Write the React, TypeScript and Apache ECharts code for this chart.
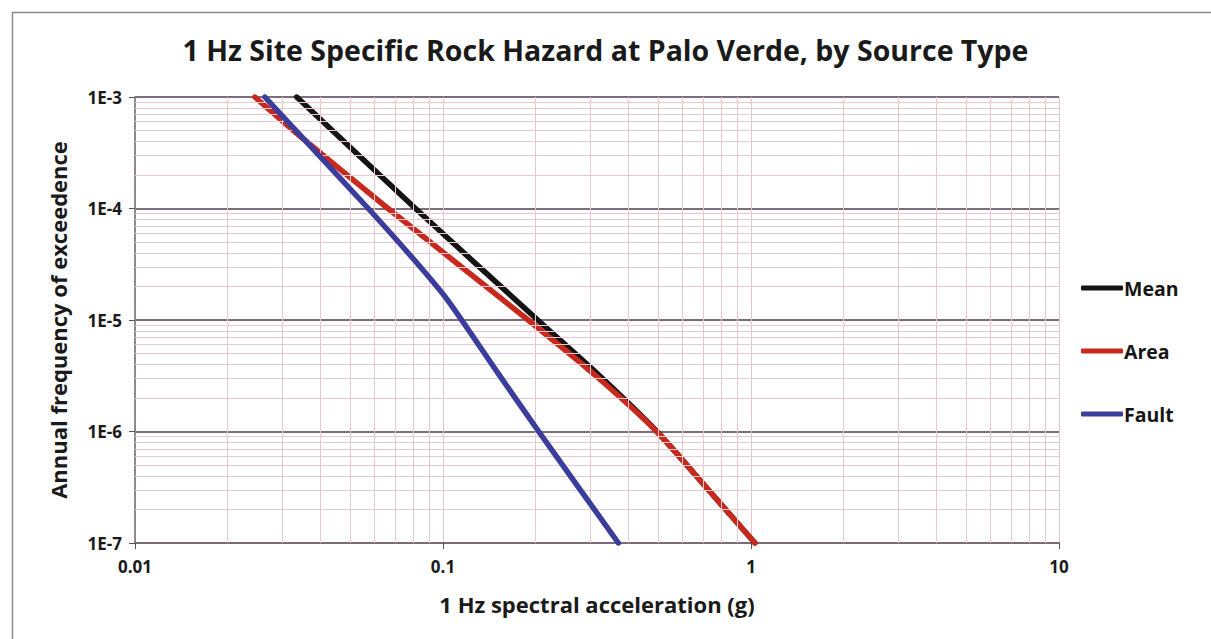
import React, { useEffect, useRef } from 'react';
import * as echarts from 'echarts';

const titleText = '1 Hz Site Specific Rock Hazard at Palo Verde, by Source Type';
const xAxisTitle = '1 Hz spectral acceleration (g)';
const yAxisTitle = 'Annual frequency of exceedence';
const seriesNames = ['Mean', 'Area', 'Fault'];
const seriesColors = ['#141414', '#c9281d', '#3b3d9c'];

const xTickLabels = ['0.01', '0.1', '1', '10'];
const yTickLabels = ['1E-7', '1E-6', '1E-5', '1E-4', '1E-3'];

// [acceleration (g), annual frequency of exceedence]
const meanData = [
  [0.0335, 1e-3],
  [0.0814, 1e-4],
  [0.203, 1e-5],
  [0.325, 3.1e-6],
  [0.495, 1e-6],
  [0.727, 3e-7],
  [1.03, 1e-7],
];
const areaData = [
  [0.0245, 1e-3],
  [0.0356, 4.1e-4],
  [0.0663, 1e-4],
  [0.189, 1e-5],
  [0.316, 3.1e-6],
  [0.494, 1e-6],
  [0.727, 3e-7],
  [1.03, 1e-7],
];
const faultData = [
  [0.0264, 1e-3],
  [0.0356, 4.1e-4],
  [0.0572, 1e-4],
  [0.0807, 3.45e-5],
  [0.1035, 1.51e-5],
  [0.1524, 3.2e-6],
  [0.2045, 1e-6],
  [0.371, 1e-7],
];

// minor gridline positions (multiples 2..9 of each decade)
const minorMultipliers = [2, 3, 4, 5, 6, 7, 8, 9];
const xDecades = [0.01, 0.1, 1];
const yDecades = [1e-7, 1e-6, 1e-5, 1e-4];

const FONT = 'Open Sans';

export default function App() {
  const ref = useRef<HTMLDivElement>(null);
  useEffect(() => {
    document.body.style.margin = '0';
    const chart = echarts.init(ref.current!, null, { renderer: 'svg' });
    const xMinor: number[] = [];
    xDecades.forEach((d) => minorMultipliers.forEach((m) => xMinor.push(d * m)));
    const yMinor: number[] = [];
    yDecades.forEach((d) => minorMultipliers.forEach((m) => yMinor.push(d * m)));

    const curves = [meanData, areaData, faultData].map((data, i) => ({
      name: seriesNames[i],
      type: 'line',
      data,
      symbol: 'none',
      smooth: 0.25,
      z: 3 + i,
      lineStyle: { color: seriesColors[i], width: 5.5, cap: 'round', join: 'round' },
      itemStyle: { color: seriesColors[i] },
    }));

    const gridSeries = (items: any[], name: string) => ({
      name,
      type: 'line',
      data: [[1, 1e-5]],
      symbol: 'none',
      lineStyle: { opacity: 0 },
      z: -1,
      silent: true,
      markLine: {
        silent: true,
        precision: 12,
        symbol: ['none', 'none'],
        label: { show: false },
        lineStyle: { color: '#e8c9cd', width: 1, type: 'solid' },
        emphasis: { disabled: true },
        data: items,
      },
    });

    chart.setOption({
      animation: false,
      backgroundColor: '#ffffff',
      title: {
        text: titleText,
        left: 'center',
        top: 30,
        textStyle: { fontFamily: FONT, fontWeight: 'bold', fontSize: 28.5, color: '#1a1a1a' },
      },
      grid: { left: 135, right: 152, top: 97, bottom: 96, containLabel: false },
      legend: {
        data: seriesNames,
        orient: 'vertical',
        left: 1076,
        top: 273,
        icon: 'roundRect',
        itemWidth: 42,
        itemHeight: 5,
        itemGap: 43,
        selectedMode: false,
        textStyle: { fontFamily: FONT, fontWeight: 'bold', fontSize: 19.5, color: '#151515', padding: [0, 0, 0, -4] },
      },
      xAxis: {
        type: 'log',
        logBase: 10,
        min: 0.01,
        max: 10,
        name: xAxisTitle,
        nameLocation: 'middle',
        nameGap: 50,
        nameTextStyle: { fontFamily: FONT, fontWeight: 'bold', fontSize: 22, color: '#1a1a1a' },
        axisLine: { show: true, lineStyle: { color: '#7a6b78', width: 2 } },
        axisTick: { show: true, length: 6, lineStyle: { color: '#555', width: 1 } },
        axisLabel: {
          margin: 15,
          fontFamily: FONT,
          fontWeight: 'bold',
          fontSize: 17,
          color: '#1a1a1a',
          formatter: (v: number) => xTickLabels[Math.round(Math.log10(v)) + 2],
        },
        splitLine: { show: true, lineStyle: { color: '#e4c3c8', width: 1 } },
      },
      yAxis: {
        type: 'log',
        logBase: 10,
        min: 1e-7,
        max: 1e-3,
        name: yAxisTitle,
        nameLocation: 'middle',
        nameGap: 66,
        nameTextStyle: { fontFamily: FONT, fontWeight: 'bold', fontSize: 22, color: '#1a1a1a' },
        axisLine: { show: true, lineStyle: { color: '#6e6e6e', width: 1.5 } },
        axisTick: { show: true, length: 6, lineStyle: { color: '#555', width: 1 } },
        axisLabel: {
          margin: 13,
          fontFamily: FONT,
          fontWeight: 'bold',
          fontSize: 17,
          color: '#1a1a1a',
          formatter: (v: number) => yTickLabels[Math.round(Math.log10(v)) + 7],
        },
        splitLine: { show: true, lineStyle: { color: '#7d6c79', width: 2 } },
      },
      graphic: [
        {
          type: 'rect',
          left: 10,
          top: 10,
          shape: { width: 1400, height: 800 },
          style: { fill: 'none', stroke: '#8c8c8c', lineWidth: 1.5 },
          silent: true,
          z: -10,
        },
      ],
      series: [
        gridSeries(xMinor.map((v) => ({ xAxis: v })), 'grid-x'),
        gridSeries(yMinor.map((v) => ({ yAxis: v })), 'grid-y'),
        ...curves,
      ],
    });
    return () => chart.dispose();
  }, []);
  return <div ref={ref} style={{ width: 1211, height: 639 }} />;
}
